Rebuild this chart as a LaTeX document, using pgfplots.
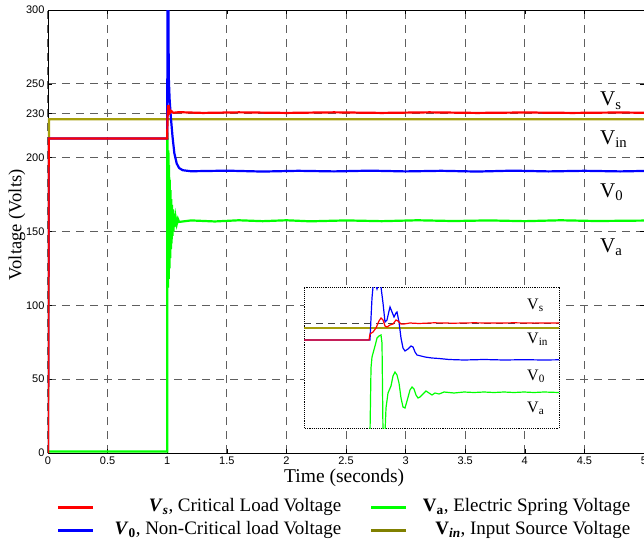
\documentclass[border=0pt]{standalone}
\usepackage{pgfplots}
\pgfplotsset{compat=1.18}
\usepackage{fontspec}
\setmainfont{Liberation Serif}
\newfontfamily\tickfont{Liberation Sans}
\definecolor{vred}{RGB}{255,0,0}
\definecolor{vblue}{RGB}{0,0,255}
\definecolor{vgreen}{RGB}{0,255,0}
\definecolor{volive}{RGB}{165,158,10}
\definecolor{volivel}{RGB}{128,128,0}
\definecolor{gridc}{RGB}{95,95,95}
\begin{document}
\begin{tikzpicture}
\begin{axis}[
  at={(0,0)}, anchor=south west,
  width=596pt, height=443pt, scale only axis,
  xmin=0, xmax=5, ymin=0, ymax=300,
  xtick={0,0.5,...,5}, ytick={0,50,100,150,200,230,250,300},
  xticklabels={0,0.5,1,1.5,2,2.5,3,3.5,4,4.5,5},
  tick align=inside, major tick length=4pt,
  tick style={black, line width=0.6pt},
  ticklabel style={font=\tickfont\fontsize{11}{13}\selectfont},
  /pgf/number format/assume math mode=true,
  xmajorgrids, ymajorgrids,
  major grid style={gridc, line width=1pt, dash pattern=on 8pt off 6pt},
  axis line style={black, line width=0.8pt},
  xlabel={Time (seconds)}, ylabel={Voltage (Volts)},
  xlabel style={font=\fontsize{19.5}{23}\selectfont, at={(axis description cs:0.497,-0.056)}, anchor=center},
  ylabel style={font=\fontsize{18.5}{22}\selectfont, at={(axis description cs:-0.052,0.515)}, anchor=center},
  clip=true,
  legend columns=2,
  legend style={at={(axis description cs:0.0143,-0.098)}, anchor=north west,
    draw=none, fill=none, inner sep=0pt, row sep=1pt,
    font=\fontsize{19}{22}\selectfont,
    nodes={inner sep=1.5pt, text height=13.5pt, text depth=5.5pt},
    /tikz/every even column/.append style={column sep=27pt}},
  legend image code/.code={\draw[#1, line width=3pt] (0pt,0pt) -- (35pt,0pt);},
]
\addlegendimage{vred}
\addlegendentry{\makebox[245pt][r]{\textbf{\textit{V}}\textsubscript{\textbf{\textit{s}}}, Critical Load Voltage}}
\addlegendimage{vgreen}
\addlegendentry{\makebox[221pt][r]{\textbf{V}\textsubscript{\textbf{a}}, Electric Spring Voltage}}
\addlegendimage{vblue}
\addlegendentry{\makebox[245pt][r]{\textbf{\textit{V}}\textsubscript{\textbf{0}}, Non-Critical load Voltage}}
\addlegendimage{volivel}
\addlegendentry{\makebox[221pt][r]{\textbf{V}\textsubscript{\textbf{\textit{in}}}, Input Source Voltage}}

% olive: input source
\addplot[volive, line width=2.2pt, forget plot] coordinates {
(0,0) (0.008,226) (1,226) (2,226) (3,226) (4,226) (5,226)};
% green: electric spring
\addplot[vgreen, line width=2.2pt, forget plot] coordinates {
(0,1) (0.5,1) (1.0,1) (1.001,217) (1.004,200) (1.007,112) (1.010,205) (1.013,118)
(1.016,195) (1.019,125) (1.022,185) (1.025,132) (1.028,178) (1.031,138) (1.034,172)
(1.037,142) (1.040,168) (1.044,147) (1.048,165) (1.052,150) (1.057,162) (1.062,153)
(1.07,160) (1.08,155) (1.09,158.5) (1.1,156.5) (1.2,157.5) (1.4,156.8) (1.6,157.6)
(1.8,157) (2.0,157.6) (2.2,156.9) (2.5,157.5) (2.8,157) (3.1,157.6) (3.4,157.1)
(3.7,157.5) (4.0,157) (4.3,157.6) (4.6,157.1) (5,157.4)};
% blue: non-critical
\addplot[vblue, line width=2.2pt, forget plot] coordinates {
(0,0) (0.006,213) (1.0,213) (1.003,310) (1.010,310) (1.013,255) (1.02,240) (1.03,228)
(1.045,214) (1.06,203) (1.08,196) (1.1,193) (1.13,191.5) (1.2,190.8) (1.5,191.2)
(1.8,190.6) (2.1,191.1) (2.4,190.7) (2.7,191.2) (3.0,190.7) (3.3,191.1) (3.6,190.6)
(3.9,191.2) (4.2,190.7) (4.5,191.1) (4.8,190.7) (5,191)};
% red: critical
\addplot[vred, line width=2.2pt, forget plot] coordinates {
(0,0) (0.006,213) (1.0,213) (1.003,228) (1.008,235.5) (1.012,231) (1.018,233)
(1.025,230.5) (1.035,231.5) (1.05,230.4) (1.1,230.8) (1.3,230.3) (1.6,230.7)
(2.0,230.3) (2.4,230.7) (2.8,230.3) (3.2,230.7) (3.6,230.3) (4.0,230.6) (4.4,230.3)
(4.8,230.6) (5,230.4)};

\node[anchor=base west, font=\fontsize{21}{24}\selectfont, inner sep=0pt] at (axis cs:4.63,235) {V\textsubscript{s}};
\node[anchor=base west, font=\fontsize{21}{24}\selectfont, inner sep=0pt] at (axis cs:4.63,209.2) {V\textsubscript{in}};
\node[anchor=base west, font=\fontsize{21}{24}\selectfont, inner sep=0pt] at (axis cs:4.63,173.3) {V\textsubscript{0}};
\node[anchor=base west, font=\fontsize{21}{24}\selectfont, inner sep=0pt] at (axis cs:4.63,136) {V\textsubscript{a}};
\end{axis}

% inset (zoom of the transient)
\begin{axis}[
  at={(256pt,25pt)}, anchor=south west,
  width=255pt, height=141pt, scale only axis,
  xmin=0, xmax=255, ymin=0, ymax=141,
  xtick=\empty, ytick={105}, yticklabels={},
  major tick length=0pt,
  ymajorgrids, major grid style={black!75, line width=0.8pt, dash pattern=on 7pt off 5pt},
  axis line style={black, line width=0.9pt, densely dotted},
  axis background/.style={fill=white},
  clip=true,
]
\addplot[volive, line width=1.4pt] coordinates {(0,100) (255,100)};
\addplot[vgreen, line width=1.2pt] coordinates {
(0,-5) (65,-5) (66,-5) (67,60) (68,71) (71,82) (73,90) (75,92) (77,93) (78,85) (79,-5)
(81,-5) (82,20) (84,35) (87,42) (89,52) (91,56) (93,53) (95,45) (97,30) (99,21) (101,20)
(103,27) (106,38) (108,41) (110,39) (112,33) (114,30) (116,31) (119,34) (122,37) (125,35)
(128,33) (131,35) (135,34) (140,36) (150,35) (160,36) (170,35.5) (180,36) (190,35.5)
(200,36) (210,35.5) (220,36) (230,35.5) (240,36) (255,35.5)};
\addplot[vblue, line width=1.2pt] coordinates {
(0,88) (66,88) (67,110) (68,130) (69,141) (71,145) (73,139) (75,145) (77,141) (79,125)
(81,106) (83,108) (85,117) (86,121) (88,116) (90,111) (92,115) (93,116) (95,106) (97,90)
(99,80) (101,77) (104,79) (107,82) (109,81) (111,76) (113,73) (117,72) (121,71) (128,70)
(135,69.5) (145,68.5) (160,68) (180,68.5) (200,68) (220,68.3) (240,68) (255,68.2)};
\addplot[vred, line width=1.2pt] coordinates {
(0,88) (65,88) (66,94) (69,96) (72,100) (75,107) (77,110) (79,108) (81,102) (83,101)
(86,103) (89,104) (92,108) (94,107) (97,104) (100,104) (106,105) (115,104.5) (130,105.2)
(150,104.8) (170,105.2) (190,104.9) (210,105.2) (230,104.9) (255,105)};
\node[anchor=base west, font=\fontsize{16}{19}\selectfont, inner sep=0pt] at (axis cs:223,119) {V\textsubscript{s}};
\node[anchor=base west, font=\fontsize{16}{19}\selectfont, inner sep=0pt] at (axis cs:223,85) {V\textsubscript{in}};
\node[anchor=base west, font=\fontsize{16}{19}\selectfont, inner sep=0pt] at (axis cs:223,48) {V\textsubscript{0}};
\node[anchor=base west, font=\fontsize{16}{19}\selectfont, inner sep=0pt] at (axis cs:223,16) {V\textsubscript{a}};
\end{axis}
\pgfresetboundingbox
\useasboundingbox (-48pt,-91pt) rectangle (596pt,453pt);
\end{tikzpicture}
\end{document}
